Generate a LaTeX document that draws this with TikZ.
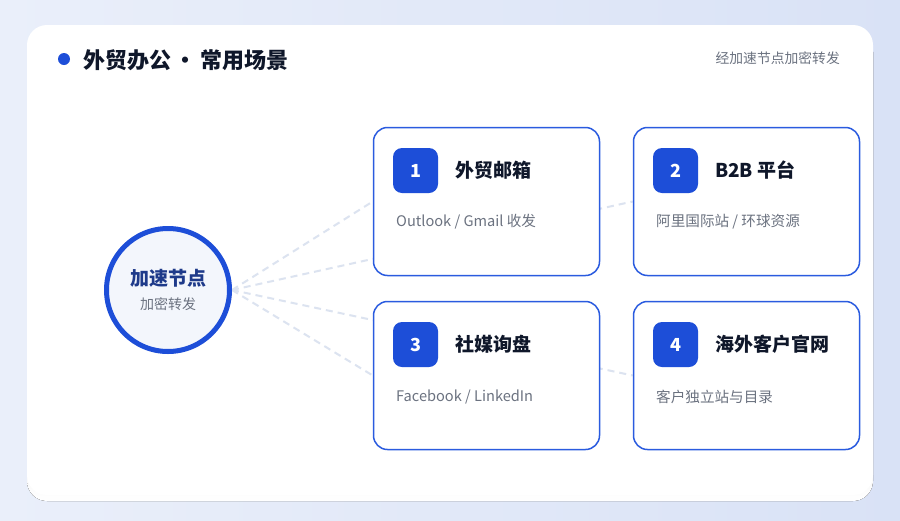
\documentclass[tikz,border=0pt]{standalone}
\usepackage{fontspec}
\setmainfont{Noto Sans CJK SC}
\usepackage{xcolor}
\usepackage{tikz}
\usetikzlibrary{shapes,arrows,positioning}

\definecolor{bgA}{HTML}{EAEFFA}
\definecolor{bgB}{HTML}{D9E2F6}
\definecolor{shade}{HTML}{CCD6ED}
\definecolor{brand}{HTML}{1D4ED8}
\definecolor{edge}{HTML}{2A5BDF}
\definecolor{ink}{HTML}{0F172A}
\definecolor{navy}{HTML}{1E3A8A}
\definecolor{muted}{HTML}{6B7280}
\definecolor{hubfill}{HTML}{F3F6FC}
\definecolor{link}{HTML}{DCE3F0}

\pgfdeclarelayer{card}
\pgfdeclarelayer{links}
\pgfsetlayers{card,links,main}

\newcommand{\fsz}[1]{\fontsize{#1pt}{#1pt}\selectfont}

\begin{document}
\begin{tikzpicture}[
        x=1pt, y=-1pt,
        hub/.style={circle, draw=brand, line width=5pt, fill=hubfill, minimum size=123pt, align=center},
        scene/.style={rectangle, rounded corners=14pt, draw=edge, line width=1.5pt, fill=white, minimum width=226pt, minimum height=148pt},
        badge/.style={rectangle, rounded corners=9pt, fill=brand, text=white, minimum size=45pt, inner sep=0pt, font=\fsz{18}\bfseries},
        heading/.style={anchor=west, inner sep=0pt, text=ink, font=\fsz{19}\bfseries},
        detail/.style={anchor=west, inner sep=0pt, text=muted, font=\fsz{14.6}},
        link/.style={draw=link, line width=2pt, dash pattern=on 7pt off 5pt}
    ]
        \useasboundingbox (0,0) rectangle (900,520);

        % Page and card
        \begin{pgfonlayer}{card}
            \shade[left color=bgA, right color=bgB] (0,0) rectangle (900,520);
            \fill[shade, rounded corners=20pt] (27,32) rectangle (873,501);
            \fill[white, rounded corners=20pt] (27,25) rectangle (873,495);
        \end{pgfonlayer}

        % Header
        \fill[brand] (64,59) circle (6pt);
        \node[anchor=west, inner sep=0pt, text=ink, font=\fsz{22}\bfseries] (title) at (83,60) {外贸办公\,•\,常用场景};
        \node[anchor=east, inner sep=0pt, text=muted, font=\fsz{13.8}] (note) at (840,58) {经加速节点加密转发};

        % Hub
        \node[hub] (hub) at (168,290) {};
        \node[text=navy, font=\fsz{19}\bfseries, inner sep=0pt] (hubtitle) at (168,278) {加速节点};
        \node[text=muted, font=\fsz{14}, inner sep=0pt] (hubsub) at (168,304) {加密转发};

        % Scene cards
        \node[scene] (mail) at (486.5,201.5) {};
        \node[scene] (btob) at (746.5,201.5) {};
        \node[scene] (social) at (486.5,375.5) {};
        \node[scene] (site) at (746.5,375.5) {};

        \node[badge] (n1) at (415.5,170.5) {1};
        \node[heading] (h1) at (455,170) {外贸邮箱};
        \node[detail] (d1) at (396,222) {Outlook / Gmail 收发};

        \node[badge] (n2) at (675.5,170.5) {2};
        \node[heading] (h2) at (715,170) {B2B 平台};
        \node[detail] (d2) at (656,222) {阿里国际站 / 环球资源};

        \node[badge] (n3) at (415.5,344.5) {3};
        \node[heading] (h3) at (455,344) {社媒询盘};
        \node[detail] (d3) at (396,397) {Facebook / LinkedIn};

        \node[badge] (n4) at (675.5,344.5) {4};
        \node[heading] (h4) at (715,344) {海外客户官网};
        \node[detail] (d4) at (656,397) {客户独立站与目录};

        % Links from hub
        \begin{pgfonlayer}{links}
            \draw[link] (hub.east) -- (mail.west);
            \draw[link] (hub.east) -- (btob.west);
            \draw[link] (hub.east) -- (social.west);
            \draw[link] (hub.east) -- (site.west);
        \end{pgfonlayer}
    \end{tikzpicture}
\end{document}
